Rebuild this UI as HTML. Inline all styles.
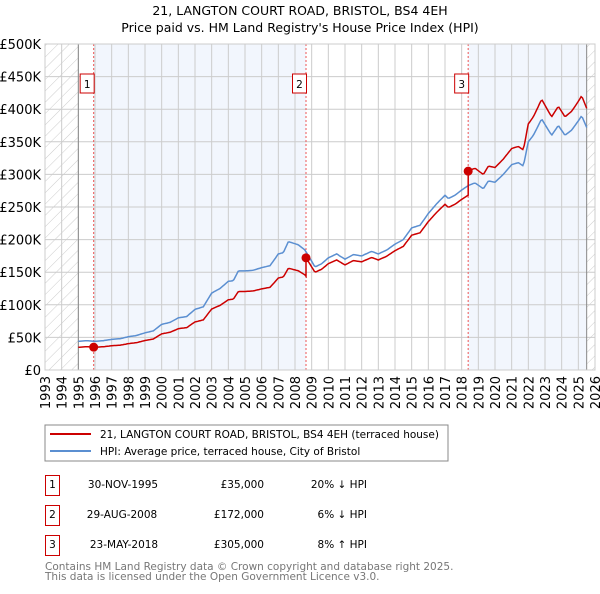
<!DOCTYPE html>
<html><head><meta charset="utf-8"><style>
body{margin:0;background:#fff;font-family:"DejaVu Sans","Liberation Sans",sans-serif;}
svg text{font-family:"DejaVu Sans","Liberation Sans",sans-serif;}
</style></head><body>
<svg id="chart" width="600" height="590" xmlns="http://www.w3.org/2000/svg">
<defs><pattern id="hatch" width="8" height="8" patternUnits="userSpaceOnUse" patternTransform="rotate(45)"><line x1="0" y1="0" x2="0" y2="8" stroke="#ccc" stroke-width="1"/></pattern></defs>
<text x="300" y="15" text-anchor="middle" font-size="12.5">21, LANGTON COURT ROAD, BRISTOL, BS4 4EH</text>
<text x="300" y="32" text-anchor="middle" font-size="12.5">Price paid vs. HM Land Registry's House Price Index (HPI)</text>
<g id="plot"></g>
<rect x="45" y="425" width="403" height="36" fill="#fff" stroke="#888"/>
<line x1="50" y1="434" x2="91" y2="434" stroke="#cc0000" stroke-width="2"/>
<text x="100" y="438" font-size="10.5">21, LANGTON COURT ROAD, BRISTOL, BS4 4EH (terraced house)</text>
<line x1="50" y1="451" x2="91" y2="451" stroke="#5b8fd1" stroke-width="2"/>
<text x="100" y="455" font-size="10.5">HPI: Average price, terraced house, City of Bristol</text>
<g font-size="10.5">
<rect x="45.5" y="475.5" width="14" height="20" fill="none" stroke="#cc0000"/><text x="52.5" y="488" text-anchor="middle">1</text>
<text x="123" y="488" text-anchor="middle">30-NOV-1995</text><text x="264" y="488" text-anchor="end">£35,000</text><text x="367" y="488" text-anchor="end">20% ↓ HPI</text>
<rect x="45.5" y="505.5" width="14" height="20" fill="none" stroke="#cc0000"/><text x="52.5" y="518" text-anchor="middle">2</text>
<text x="122" y="518" text-anchor="middle">29-AUG-2008</text><text x="264" y="518" text-anchor="end">£172,000</text><text x="367" y="518" text-anchor="end">6% ↓ HPI</text>
<rect x="45.5" y="535.5" width="14" height="20" fill="none" stroke="#cc0000"/><text x="52.5" y="548" text-anchor="middle">3</text>
<text x="124" y="548" text-anchor="middle">23-MAY-2018</text><text x="264" y="548" text-anchor="end">£305,000</text><text x="367" y="548" text-anchor="end">8% ↑ HPI</text>
</g>
<text x="45" y="570" font-size="10.5" fill="#777">Contains HM Land Registry data © Crown copyright and database right 2025.</text>
<text x="45" y="580" font-size="10.5" fill="#777">This data is licensed under the Open Government Licence v3.0.</text>
</svg>
<script>
const hpiYears=[1995.0,1995.5,1996,1996.5,1997,1997.5,1998,1998.5,1999,1999.5,2000,2000.5,2001,2001.5,2002,2002.5,2003,2003.5,2004,2004.3,2004.6,2005,2005.5,2006,2006.5,2007,2007.3,2007.6,2008.2,2008.6,2009.2,2009.6,2010,2010.5,2011,2011.5,2012,2012.6,2013,2013.5,2014,2014.5,2015,2015.5,2016,2016.5,2017,2017.2,2017.6,2018,2018.4,2018.8,2019.3,2019.6,2020,2020.5,2021,2021.4,2021.7,2022,2022.3,2022.8,2023.2,2023.4,2023.8,2024.2,2024.6,2025.0,2025.2,2025.5];
const hpiValues=[44,45,44,45,47,48,51,53,57,60,70,73,80,82,93,97,118,125,136,137,152,152,153,157,160,178,180,197,192,184,158,163,172,178,170,177,175,182,178,184,193,200,218,222,240,255,268,263,268,276,283,287,278,290,288,300,315,318,313,350,360,385,368,360,375,360,368,382,390,372];
const saleYears=[1995.92,2008.66,2018.39];
const salePrices=[35,172,305];
const saleLabels=["1","2","3"];
const yTicks=[0,50,100,150,200,250,300,350,400,450,500];
const yTickLabels=["£0","£50K","£100K","£150K","£200K","£250K","£300K","£350K","£400K","£450K","£500K"];
const xTickYears=[1993,1994,1995,1996,1997,1998,1999,2000,2001,2002,2003,2004,2005,2006,2007,2008,2009,2010,2011,2012,2013,2014,2015,2016,2017,2018,2019,2020,2021,2022,2023,2024,2025,2026];
const X0=45,X1=595,Y0=370,Y1=44;
const xs=y=>X0+(y-1993)/(2026-1993)*(X1-X0);
const ys=v=>Y0-v/500*(Y0-Y1);
const NS="http://www.w3.org/2000/svg";
const g=document.getElementById('plot');
function mk(t,a){const e=document.createElementNS(NS,t);for(const k in a)e.setAttribute(k,a[k]);g.appendChild(e);return e;}
function hpiAt(t){for(let i=0;i<hpiYears.length-1;i++){if(t<=hpiYears[i+1]){const f=(t-hpiYears[i])/(hpiYears[i+1]-hpiYears[i]);return hpiValues[i]+f*(hpiValues[i+1]-hpiValues[i]);}}return hpiValues[hpiValues.length-1];}
const endY=hpiYears[hpiYears.length-1];
let e;
e=mk('rect',{x:xs(saleYears[0]),y:Y1,width:xs(saleYears[1])-xs(saleYears[0]),height:Y0-Y1,fill:'#f2f6fd'});


e=mk('rect',{x:xs(saleYears[2]),y:Y1,width:xs(endY)-xs(saleYears[2]),height:Y0-Y1,fill:'#f2f6fd'});


e=mk('rect',{x:X0,y:Y1,width:xs(1995)-X0,height:Y0-Y1,fill:'url(#hatch)'});


e=mk('rect',{x:xs(endY),y:Y1,width:X1-xs(endY),height:Y0-Y1,fill:'url(#hatch)'});


yTicks.forEach((v,i)=>{
 e=mk('line',{x1:X0,x2:X1,y1:ys(v),y2:ys(v),stroke:'#ccc'});
 
 
 e=mk('text',{x:X0-4,y:ys(v)+5,'text-anchor':'end','font-size':'13'});e.textContent=yTickLabels[i];
 
 
});
xTickYears.forEach(yr=>{
 e=mk('line',{x1:xs(yr),x2:xs(yr),y1:Y1,y2:Y0,stroke:'#ccc'});
 
 
 const tx=xs(yr)+5;
 e=mk('text',{x:tx,y:376,'text-anchor':'end','font-size':'13',transform:`rotate(-90 ${tx} 376)`});e.textContent=yr;
 
 
});
e=mk('line',{x1:xs(1995),x2:xs(1995),y1:Y1,y2:Y0,stroke:'#888'});


e=mk('line',{x1:xs(endY),x2:xs(endY),y1:Y1,y2:Y0,stroke:'#888'});


saleYears.forEach((s,i)=>{
 e=mk('line',{x1:xs(s),x2:xs(s),y1:Y1,y2:Y0,stroke:'#e55','stroke-dasharray':'2,2','stroke-width':'1'});
 
 
 e=mk('rect',{x:xs(s)-13.5,y:74,width:14,height:19,fill:'#fff',stroke:'#cc0000'});
 
 
 e=mk('text',{x:xs(s)-6.5,y:88,'text-anchor':'middle','font-size':'10.5'});e.textContent=saleLabels[i];
 
 
});
let pts=[];for(let t=1995;t<=endY+1e-6;t+=1/12)pts.push(xs(t).toFixed(1)+','+ys(hpiAt(t)).toFixed(1));
e=mk('polyline',{points:pts.join(' '),fill:'none',stroke:'#5b8fd1','stroke-width':'1.5'});


function priceAt(t){let k=0;for(let i=0;i<saleYears.length;i++)if(t>=saleYears[i])k=i;return salePrices[k]*hpiAt(t)/hpiAt(saleYears[k]);}
let rp=[];
for(let t=1995;t<=endY+1e-6;t+=1/12){
 saleYears.forEach((s,i)=>{if(i>0&&s>t-1/12&&s<=t){rp.push(xs(s).toFixed(1)+','+ys(salePrices[i-1]*hpiAt(s)/hpiAt(saleYears[i-1])).toFixed(1));rp.push(xs(s).toFixed(1)+','+ys(salePrices[i]).toFixed(1));}});
 rp.push(xs(t).toFixed(1)+','+ys(priceAt(t)).toFixed(1));
}
e=mk('polyline',{points:rp.join(' '),fill:'none',stroke:'#cc0000','stroke-width':'1.5'});


saleYears.forEach((s,i)=>{
 e=mk('circle',{cx:xs(s),cy:ys(salePrices[i]),r:4.5,fill:'#cc0000'});
 
 
});
e=mk('rect',{x:X0,y:Y1,width:X1-X0,height:Y0-Y1,fill:'none',stroke:'#ccc'});


</script>
</body></html>
